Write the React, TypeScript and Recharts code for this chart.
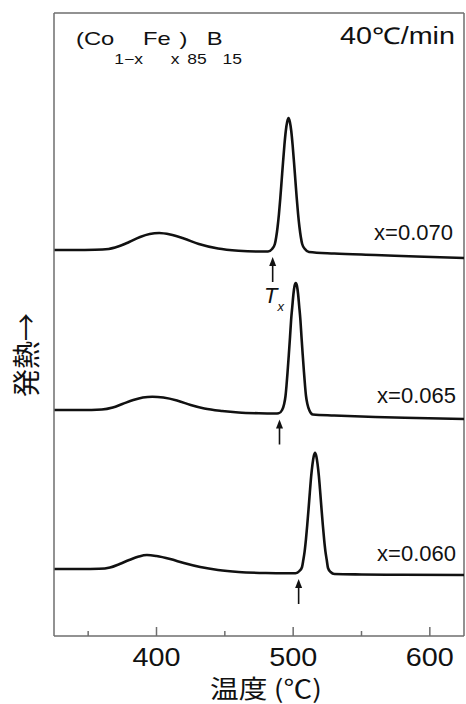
import { LineChart, Line, XAxis, YAxis, ReferenceLine, ReferenceDot } from "recharts";

const AXIS = "rgb(110,110,110)";
const INK = "rgb(17,17,17)";
const LATIN = "'Liberation Sans', Arial, sans-serif";
const CJK = "'Noto Sans CJK JP', 'Noto Sans', sans-serif";

const T_DOMAIN: [number, number] = [325, 625];
const X_TICKS = [350, 400, 450, 500, 550, 600];
const X_LABELED = [400, 500, 600];

// [temperature °C, heat flow (arb.)]
const curve070: [number, number][] = [
  [325, 38.6], [340, 38.6], [355, 38.62], [365, 38.7], [372, 38.95], [380, 39.4],
  [388, 39.9], [395, 40.2], [402, 40.3], [410, 40.15], [420, 39.75], [431, 39.2],
  [445, 38.75], [460, 38.53], [475, 38.45], [481.6, 38.45], [484.6, 38.7],
  [486.6, 39.2], [487.6, 39.9], [488.6, 40.9], [489.6, 42.2], [490.6, 43.8],
  [491.6, 45.6], [492.6, 47.4], [493.6, 49.1], [494.6, 50.5], [495.6, 51.4],
  [496.6, 51.8], [497.6, 51.4], [498.6, 50.5], [499.6, 49.1], [500.6, 47.4],
  [501.6, 45.6], [502.6, 43.8], [503.6, 42.2], [504.6, 40.9], [505.6, 39.9],
  [506.6, 39.2], [508.6, 38.7], [511.6, 38.4], [530, 38.25], [560, 38.1],
  [590, 37.95], [625, 37.8],
];

const curve065: [number, number][] = [
  [325, 22.6], [345, 22.6], [360, 22.65], [368, 22.85], [375, 23.2], [383, 23.6],
  [390, 23.85], [397, 23.93], [405, 23.85], [415, 23.55], [425, 23.1], [435, 22.75],
  [448, 22.5], [460, 22.35], [475, 22.27], [487, 22.25], [489.4, 22.27],
  [491.9, 22.6], [493.4, 23.2], [494.4, 24.0], [495.1, 25.0], [495.9, 26.4],
  [496.8, 28.1], [497.7, 29.9], [498.5, 31.6], [499.4, 33.0], [500.2, 34.2],
  [501.0, 35.0], [501.9, 35.3], [502.8, 35.0], [503.6, 34.2], [504.4, 33.0],
  [505.3, 31.6], [506.1, 29.9], [507.0, 28.1], [507.9, 26.4], [508.7, 25.0],
  [509.4, 24.0], [510.4, 23.2], [511.9, 22.55], [514.4, 22.15], [530, 22.05],
  [560, 21.9], [590, 21.8], [625, 21.7],
];

const curve060: [number, number][] = [
  [325, 6.7], [345, 6.7], [358, 6.72], [366, 6.85], [373, 7.2], [380, 7.6],
  [387, 7.95], [393, 8.1], [400, 8.0], [410, 7.7], [420, 7.3], [432, 6.9],
  [445, 6.6], [460, 6.4], [480, 6.3], [495, 6.28], [501.75, 6.28], [504.6, 6.5],
  [506.5, 6.9], [507.45, 7.62], [508.4, 8.47], [509.35, 9.67], [510.3, 11.1],
  [511.25, 12.68], [512.2, 14.36], [513.15, 15.93], [514.1, 17.13], [515.05, 17.97],
  [516.0, 18.33], [516.95, 17.97], [517.9, 17.13], [518.85, 15.93], [519.8, 14.36],
  [520.75, 12.68], [521.7, 11.1], [522.65, 9.67], [523.6, 8.47], [524.55, 7.62],
  [525.5, 6.8], [527.4, 6.4], [530.25, 6.2], [550, 6.15], [580, 6.12], [625, 6.1],
];

const SAMPLE_LABELS = ["x=0.070", "x=0.065", "x=0.060"];
const TX_ONSET = [485, 490, 504];
const TX_LEVEL = [38.5, 22.25, 6.3];

const CURVES = [curve070, curve065, curve060];
const Y_MAX = 62.3;

function XTick({ x, y, payload }: any) {
  const major = X_LABELED.includes(payload.value);
  return (
    <g>
      <line x1={x} x2={x} y1={y} y2={y - (major ? 9 : 5)} stroke={AXIS} strokeWidth={1.5} />
      {major && (
        <text
          x={x}
          y={y + 30}
          textAnchor="middle"
          fontSize={26}
          textLength={48}
          lengthAdjust="spacingAndGlyphs"
          fontFamily={LATIN}
          fill={INK}
        >
          {payload.value}
        </text>
      )}
    </g>
  );
}

function TxArrow({ cx, cy }: any) {
  const top = cy + 6;
  return (
    <g>
      <line x1={cx} x2={cx} y1={top + 6} y2={top + 25} stroke={INK} strokeWidth={1.6} />
      <path d={`M${cx - 3.5},${top + 9} L${cx},${top} L${cx + 3.5},${top + 9} Z`} fill={INK} />
    </g>
  );
}

export default function App() {
  return (
    <div style={{ position: "absolute", left: 0, top: 0, width: 466, height: 704, background: "#fff" }}>
      <LineChart width={466} height={704} margin={{ top: 13, right: 2, left: 0, bottom: 0 }}>
        <XAxis
          type="number"
          dataKey="t"
          domain={T_DOMAIN}
          ticks={X_TICKS}
          allowDataOverflow
          height={68}
          tickSize={0}
          tickMargin={0}
          tickLine={false}
          tick={<XTick />}
          axisLine={{ stroke: AXIS, strokeWidth: 1.5 }}
        />
        <YAxis
          type="number"
          domain={[0, Y_MAX]}
          allowDataOverflow
          width={54}
          tick={false}
          tickLine={false}
          axisLine={{ stroke: AXIS, strokeWidth: 1.5 }}
        />
        <ReferenceLine y={Y_MAX} stroke={AXIS} strokeWidth={1.5} />
        <ReferenceLine x={T_DOMAIN[1]} stroke={AXIS} strokeWidth={1.5} />
        {CURVES.map((c, i) => (
          <Line
            key={SAMPLE_LABELS[i]}
            data={c.map(([t, v]) => ({ t, v }))}
            dataKey="v"
            type="monotone"
            stroke={INK}
            strokeWidth={2.6}
            dot={false}
            isAnimationActive={false}
          />
        ))}
        {TX_ONSET.map((t, i) => (
          <ReferenceDot key={t} x={t} y={TX_LEVEL[i]} r={0} shape={<TxArrow />} />
        ))}
      </LineChart>
      <svg width={466} height={704} style={{ position: "absolute", left: 0, top: 0, pointerEvents: "none" }}>
        <g transform="translate(76 0) scale(1.25 1) translate(-76 0)">
          <text x={76} y={45} fontFamily={LATIN} fontSize={19} fill={INK}>
            <tspan>(Co</tspan>
            <tspan fontSize={14} dy={19}>1−x</tspan>
            <tspan fontSize={19} dy={-19}>Fe</tspan>
            <tspan fontSize={14} dy={19}>x</tspan>
            <tspan fontSize={19} dy={-19}>)</tspan>
            <tspan fontSize={14} dy={19}>85</tspan>
            <tspan fontSize={19} dy={-19}>B</tspan>
            <tspan fontSize={14} dy={19}>15</tspan>
          </text>
        </g>
        <text
          x={340}
          y={44}
          textLength={115}
          lengthAdjust="spacingAndGlyphs"
          fontFamily={LATIN}
          fontSize={23}
          fill={INK}
        >
          40℃/min
        </text>
        <text x={453} y={240} textAnchor="end" fontFamily={LATIN} fontSize={22} fill={INK}>{SAMPLE_LABELS[0]}</text>
        <text x={456} y={403} textAnchor="end" fontFamily={LATIN} fontSize={22} fill={INK}>{SAMPLE_LABELS[1]}</text>
        <text x={456} y={561} textAnchor="end" fontFamily={LATIN} fontSize={22} fill={INK}>{SAMPLE_LABELS[2]}</text>
        <text x={264} y={303} fontFamily={LATIN} fontStyle="italic" fontSize={22} fill={INK}>
          T<tspan fontSize={13} dy={8}>x</tspan>
        </text>
        <text
          x={266}
          y={698}
          textAnchor="middle"
          textLength={112}
          lengthAdjust="spacingAndGlyphs"
          fontFamily={CJK}
          fontSize={25}
          fill={INK}
        >
          温度 (℃)
        </text>
        <text
          x={25}
          y={355}
          transform="rotate(-90 25 355)"
          textAnchor="middle"
          dominantBaseline="central"
          fontFamily={CJK}
          fontSize={28}
          fill={INK}
        >
          発熱→
        </text>
      </svg>
    </div>
  );
}
